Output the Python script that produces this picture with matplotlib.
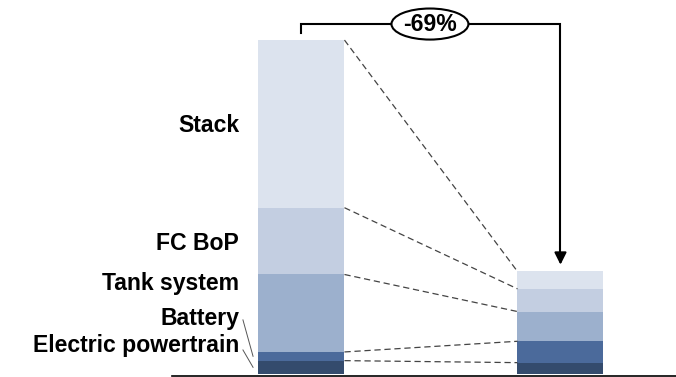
import matplotlib.pyplot as plt
from matplotlib.patches import Ellipse

plt.rcParams['font.family'] = ['Liberation Sans', 'DejaVu Sans']

# cost components, bottom to top (left total = 100)
components = ['Electric powertrain', 'Battery', 'Tank system', 'FC BoP', 'Stack']
today = [4.0, 2.6, 23.2, 20.0, 50.2]
future = [3.4, 6.4, 8.9, 6.8, 5.2]
colors = ['#344b6d', '#4b6a9b', '#9cb0cd', '#c3cee1', '#dce3ee']

fig = plt.figure(figsize=(6.76, 3.77), dpi=100)
ax = fig.add_axes([0, 0, 1, 1])
ax.set_xlim(-1.164, 1.446)
ax.set_ylim(-0.9, 112)
ax.axis('off')

w = 0.332
xs = [0, 1]
bot_l, bot_r = 0, 0
tops_l, tops_r = [], []
for v_l, v_r, c in zip(today, future, colors):
    ax.bar(xs[0], v_l, w, bottom=bot_l, color=c, edgecolor='none')
    ax.bar(xs[1], v_r, w, bottom=bot_r, color=c, edgecolor='none')
    bot_l += v_l
    bot_r += v_r
    tops_l.append(bot_l)
    tops_r.append(bot_r)

# dashed connectors between matching segment tops
for yl, yr in zip(tops_l, tops_r):
    ax.plot([xs[0] + w / 2, xs[1] - w / 2], [yl, yr], color='#444444',
            lw=0.9, ls=(0, (5, 3)))

# baseline
ax.axhline(-0.5, xmin=0.254, xmax=1, color='black', lw=1.2)

# labels on the left
label_y = [6.6, 14.7, 25.1, 37.1, 72.5]
for name, y in zip(components, label_y):
    ax.text(-0.241, y, name, ha='right', va='baseline', fontsize=16.6,
            fontweight='bold')

# leader lines for the thin segments
for y0, i in [(16.2, 1), (7.2, 0)]:
    mid = tops_l[i] - today[i] / 2
    ax.plot([-0.226, -0.187], [y0, mid], color='#555555', lw=0.7)

# bracket with reduction
total_l, total_r = sum(today), sum(future)
pct = round((total_r / total_l - 1) * 100)
by = total_l + 4.8
ax.plot([xs[0], xs[0], xs[1], xs[1]], [total_l + 2.2, by, by, total_r + 4],
        color='black', lw=1.5, solid_joinstyle='miter')
ax.annotate('', xy=(xs[1], total_r + 1.2), xytext=(xs[1], total_r + 6),
            arrowprops=dict(arrowstyle='-|>', color='black', lw=1.5,
                            mutation_scale=18))
ax.add_patch(Ellipse((0.496, by), 0.297, 9.3, facecolor='white',
                     edgecolor='black', lw=1.5, zorder=5))
ax.text(0.496, by, f'{pct}%', ha='center', va='center', fontsize=16.6,
        fontweight='bold', zorder=6)

fig.savefig('out.png', dpi=100)
